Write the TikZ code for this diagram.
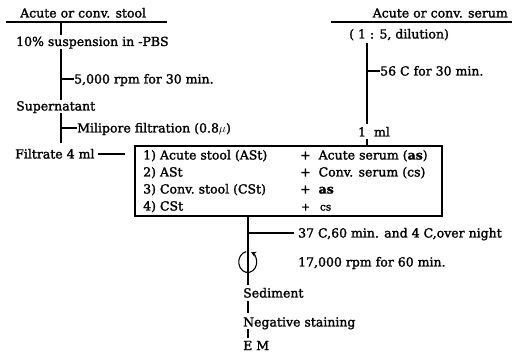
\documentclass[tikz,border=0pt]{standalone}
\usepackage{fontspec}
\setmainfont{DejaVu Serif}[FakeBold=1.6,BoldFont=DejaVu Serif Bold]
\usetikzlibrary{arrows.meta}
\begin{document}
\begin{tikzpicture}[x=1pt,y=-1pt,
  lbl/.style={anchor=base west,inner sep=0pt,font=\fontsize{12.5}{14}\selectfont},
  ln/.style={line width=1.1pt}]
\useasboundingbox (0,0) rectangle (514,355);
% ---------- left column ----------
\node[lbl] (stool) at (20,17.5) {Acute or conv. stool};
\coordinate (ulLa) at (6,22); \coordinate (ulLb) at (167,22);
\draw[ln] (ulLa) -- (ulLb);
\coordinate (L0) at (61,22); \coordinate (L1) at (61,35);
\draw[ln] (L0) -- (L1);
\node[lbl] (susp) at (16,46) {10\% suspension in -PBS};
\coordinate (L2) at (61,49); \coordinate (L3) at (61,100);
\draw[ln] (L2) -- (L3);
\coordinate (b1) at (61,79);
\node[lbl] (rpm1) at (74,83.5) {5,000 rpm for 30 min.};
\draw[ln] (b1) -- (rpm1.west |- b1);
\node[lbl] (super) at (16,110.5) {Supernatant};
\coordinate (L4) at (61,113); \coordinate (L5) at (61,143);
\draw[ln] (L4) -- (L5);
\coordinate (b2) at (61,128);
\node[lbl] (mili) at (77,132.5) {Milipore filtration (0.8$\mu$)};
\draw[ln] (b2) -- (mili.west |- b2);
\node[lbl] (filt) at (15,158.5) {Filtrate 4 ml};
% ---------- box ----------
\coordinate (bxNW) at (135,146); \coordinate (bxSE) at (442,216);
\draw[ln] (bxNW) rectangle (bxSE);
\draw[ln] ([xshift=3pt]filt.east |- 0,154) -- ([xshift=-10pt]bxNW |- 0,154);
\node[lbl] (r1a) at (143,159.5) {1)\ Acute\ stool\ (ASt)};
\node[lbl] (r1b) at (300,159.5) {+\ \ Acute serum (\textbf{as})};
\node[lbl] (r2a) at (143,176.5) {2)\ ASt};
\node[lbl] (r2b) at (300,176.5) {+\ \ Conv. serum (cs)};
\node[lbl] (r3a) at (143,193.5) {3)\ Conv.\ stool\ (CSt)};
\node[lbl] (r3b) at (300,193.5) {+\ \ \textbf{as}};
\node[lbl] (r4a) at (143,210.5) {4)\ CSt};
\node[lbl,font=\fontsize{10.5}{12}\selectfont] (r4b) at (301,210.5) {+\ \ \ cs};
% ---------- right column ----------
\node[lbl,anchor=base east] (serum) at (508,17.5) {Acute or conv. serum};
\coordinate (ulRa) at (331,22); \coordinate (ulRb) at (512,22);
\draw[ln] (ulRa) -- (ulRb);
\node[lbl] (dil) at (349,38.5) {( 1 : 5, dilution)};
\coordinate (R0) at (367,43); \coordinate (R1) at (367,124);
\draw[ln] (R0) -- (R1);
\coordinate (b3) at (367,71);
\node[lbl] (heat) at (380,75.5) {56 C for 30 min.};
\draw[ln] (b3) -- (heat.west |- b3);
\node[lbl,anchor=base] (ml) at (374,136.5) {1\ \ ml};
\coordinate (R2) at (367,139);
\draw[ln] (R2) -- (bxNW -| R2);
% ---------- bottom column ----------
\coordinate (B0) at (bxSE -| 248,0);
\coordinate (B1) at (248,285);
\draw[ln] (B0) -- (B1);
\coordinate (b4) at (248,233);
\node[lbl] (inc) at (298,237.5) {37 C,60 min. and 4 C,over night};
\draw[ln] (b4) -- ([xshift=-4pt]inc.west |- b4);
\coordinate (cf) at (248,262);
\draw[ln,-{Stealth[length=5pt,width=5.5pt]}] (cf) ++(-100:10.5) arc[start angle=-100,end angle=-428,x radius=9,y radius=10.5];
\node[lbl] (rpm2) at (298,266.5) {17,000 rpm for 60 min.};
\node[lbl] (sed) at (243,297.5) {Sediment};
\coordinate (B2) at (248,301); \coordinate (B3) at (248,313);
\draw[ln] (B2) -- (B3);
\node[lbl] (neg) at (243,326.5) {Negative staining};
\coordinate (B4) at (248,329); \coordinate (B5) at (248,338);
\draw[ln] (B4) -- (B5);
\node[lbl] (em) at (243,350) {E M};
\end{tikzpicture}
\end{document}
